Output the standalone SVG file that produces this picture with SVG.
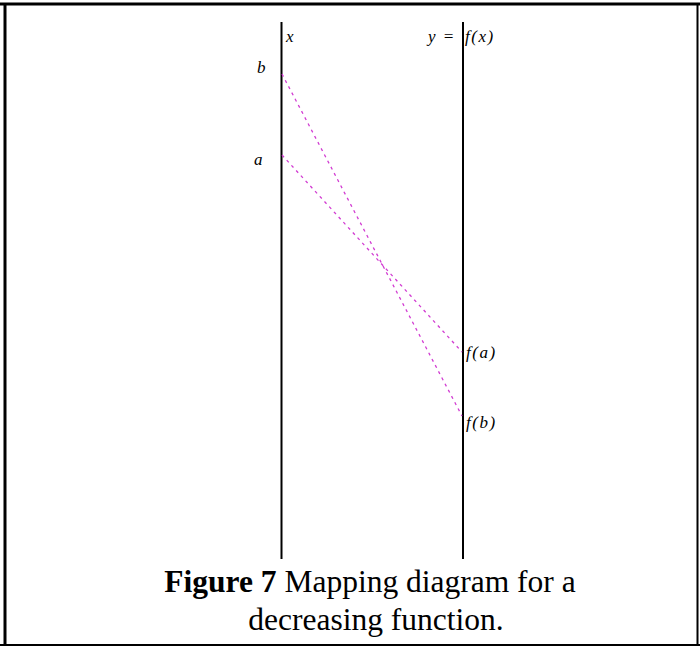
<svg xmlns="http://www.w3.org/2000/svg" width="700" height="646" viewBox="0 0 700 646">
<style>
.frame{fill:none;stroke:#000}
.axis{stroke:#000;stroke-width:2}
.map{stroke:#d23cd2;stroke-width:1.3;stroke-dasharray:3 4;fill:none}
.lbl{font-family:"Liberation Serif",serif;font-style:italic;font-size:17px;letter-spacing:1.5px;fill:#000}
.cap{font-family:"Liberation Serif",serif;font-size:31.5px;fill:#000}
</style>
<rect width="700" height="646" fill="#fff"/>
<g id="frame">
<line class="frame" x1="0" y1="4" x2="700" y2="4" stroke-width="3"/>
<line class="frame" x1="5" y1="3" x2="5" y2="646" stroke-width="3"/>
<line class="frame" x1="697.5" y1="3" x2="697.5" y2="646" stroke-width="2"/>
<line class="frame" x1="0" y1="645" x2="700" y2="645" stroke-width="2"/>
</g>
<g id="domain-axis">
<line class="axis" x1="281.5" y1="22" x2="281.5" y2="559"/>
<text class="lbl" x="286" y="42">x</text>
<text class="lbl" x="257" y="73">b</text>
<text class="lbl" x="254" y="165">a</text>
</g>
<g id="range-axis">
<line class="axis" x1="463" y1="22" x2="463" y2="559"/>
<text class="lbl" x="428" y="42">y =</text>
<text class="lbl" x="465" y="42">f(x)</text>
<text class="lbl" x="466" y="358">f(a)</text>
<text class="lbl" x="466" y="428">f(b)</text>
</g>
<g id="connectors">
<line class="map" x1="282" y1="74" x2="462" y2="416"/>
<line class="map" x1="282" y1="155" x2="462" y2="352"/>
</g>
<g id="caption">
<text class="cap" x="370" y="592" text-anchor="middle"><tspan font-weight="bold">Figure 7</tspan> Mapping diagram for a</text>
<text class="cap" x="376" y="630" text-anchor="middle">decreasing function.</text>
</g>
</svg>
